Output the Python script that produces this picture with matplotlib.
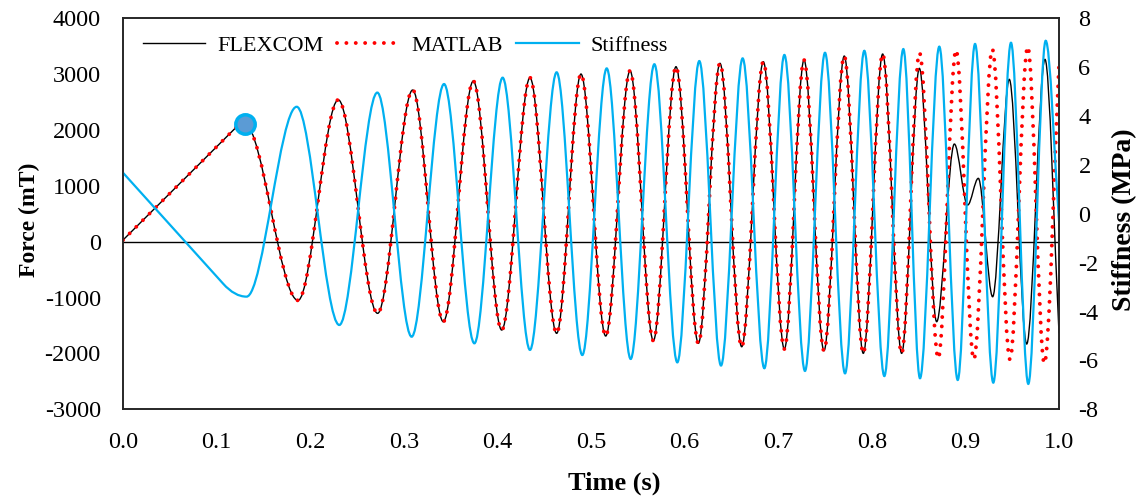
import numpy as np
import matplotlib
matplotlib.use('Agg')
import matplotlib.pyplot as plt
from matplotlib.path import Path
from matplotlib.patches import PathPatch
from matplotlib.lines import Line2D

plt.rcParams['font.family'] = ['Liberation Serif', 'DejaVu Serif']
plt.rcParams['axes.unicode_minus'] = False

# ---------------- data (extrema / key points) ----------------
common_t = [0.0, 0.119, 0.13, 0.187, 0.230, 0.272, 0.3095, 0.3422, 0.3743, 0.4046,
            0.4348, 0.4633, 0.4893, 0.5157, 0.5417, 0.5666, 0.5908, 0.6147, 0.6378,
            0.6610, 0.6841, 0.7066, 0.7276, 0.7489, 0.7706, 0.7909, 0.8116, 0.8319]
common_v = [30, 2017, 2110, -1050, 2540, -1282, 2716, -1432, 2877, -1581,
            2936, -1640, 3002, -1688, 3061, -1772, 3133, -1819, 3194,
            -1880, 3222, -1921, 3253, -1951, 3324, -1998, 3360, -1998]

flexcom_tail_t = [0.8508, 0.8693, 0.8882, 0.9024, 0.9138, 0.9291, 0.9469, 0.9655, 0.985, 1.0]
flexcom_tail_v = [3104, -1432, 1749, 657, 1135, -985, 2907, -1831, 3265, -1640]

matlab_tail_t = [0.851, 0.871, 0.890, 0.909, 0.9288, 0.9476, 0.9666, 0.9843, 1.0]
matlab_tail_v = [3380, -2088, 3432, -2106, 3444, -2106, 3491, -2177, 3170]

stiff_t = [0.0, 0.107, 0.132, 0.1856, 0.2311, 0.2717, 0.3084, 0.343, 0.3754, 0.4056,
           0.4348, 0.4633, 0.4907, 0.5168, 0.5424, 0.5677, 0.5922, 0.6157, 0.6389,
           0.662, 0.6852, 0.7066, 0.7286, 0.75, 0.7714, 0.792, 0.8134, 0.8337,
           0.8515, 0.8721, 0.8918, 0.9103, 0.9298, 0.9487, 0.9672, 0.9858, 1.0]
stiff_v = [1.68, -2.86, -3.39, 4.38, -4.55, 4.96, -5.03, 5.31, -5.30, 5.57,
           -5.57, 5.79, -5.78, 5.95, -5.94, 6.12, -6.08, 6.25, -6.21,
           6.36, -6.32, 6.50, -6.43, 6.59, -6.53, 6.67, -6.64, 6.74,
           -6.73, 6.84, -6.80, 6.95, -6.91, 7.00, -6.96, 7.08, -0.3]

marker_t = [0.13]
marker_v = [2100]

x_ticks = [0.0, 0.1, 0.2, 0.3, 0.4, 0.5, 0.6, 0.7, 0.8, 0.9, 1.0]
force_ticks = [-3000, -2000, -1000, 0, 1000, 2000, 3000, 4000]
stiff_ticks = [-8, -6, -4, -2, 0, 2, 4, 6, 8]

flexcom_t = common_t + flexcom_tail_t
flexcom_v = common_v + flexcom_tail_v
matlab_t = common_t + matlab_tail_t
matlab_v = common_v + matlab_tail_v


def tangents(t, v):
    """Zero slope at extrema; straight runs between non-extremum points."""
    t = np.asarray(t, float)
    v = np.asarray(v, float)
    n = len(v)
    h = np.diff(t)
    d = np.diff(v) / h
    ext = np.zeros(n, bool)
    for k in range(1, n - 1):
        ext[k] = d[k - 1] * d[k] <= 0
    m = np.zeros(n)
    m[0] = d[0]
    m[-1] = d[-1]
    for k in range(1, n - 1):
        if ext[k]:
            m[k] = 0.0
        elif not ext[k - 1]:
            m[k] = d[k - 1]
        elif not ext[k + 1] and k + 1 < n - 1:
            m[k] = d[k]
        else:
            w1 = 2 * h[k] + h[k - 1]
            w2 = h[k] + 2 * h[k - 1]
            m[k] = (w1 + w2) / (w1 / d[k - 1] + w2 / d[k])
    return m


def smooth_path(t, v):
    m = tangents(t, v)
    verts = [(t[0], v[0])]
    codes = [Path.MOVETO]
    for i in range(len(t) - 1):
        h = t[i + 1] - t[i]
        verts += [(t[i] + h / 3, v[i] + m[i] * h / 3),
                  (t[i + 1] - h / 3, v[i + 1] - m[i + 1] * h / 3),
                  (t[i + 1], v[i + 1])]
        codes += [Path.CURVE4] * 3
    return Path(verts, codes)


fig = plt.figure(figsize=(11.43, 5.0), dpi=100)
ax = fig.add_axes([123 / 1143, 1 - 409.3 / 500, 936 / 1143, 391 / 500])
ax2 = ax.twinx()

dots = (0, (0.01, 2.4))
ax.axhline(0, color='black', lw=1.0, zorder=1.5)
ax.add_patch(PathPatch(smooth_path(flexcom_t, flexcom_v), fill=False, ec='black', lw=1.0, zorder=2))
ax.add_patch(PathPatch(smooth_path(matlab_t, matlab_v), fill=False, ec='#FF0000', lw=2.8,
                       linestyle=dots, capstyle='round', zorder=3))
ax.plot(marker_t, marker_v, 'o', ms=14, mfc='#5B9BD5', mec='#00B0F0', mew=2.5, zorder=5)
ax2.add_patch(PathPatch(smooth_path(stiff_t, stiff_v), fill=False, ec='#00B0F0', lw=1.6, zorder=2))

ax.set_xlim(0, 1)
ax.set_ylim(-3000, 4000)
ax2.set_ylim(-8, 8)
ax.set_xticks(x_ticks)
ax.set_xticklabels([f'{x:.1f}' for x in x_ticks])
ax.set_yticks(force_ticks)
ax2.set_yticks(stiff_ticks)

ax.tick_params(axis='x', length=0, pad=16, labelsize=17.5)
ax.tick_params(axis='y', length=0, pad=16, labelsize=17.5)
ax2.tick_params(axis='y', length=0, pad=14, labelsize=17.5)

for a in (ax, ax2):
    for s in a.spines.values():
        s.set_color('#262626')
        s.set_linewidth(1.2)

ax.set_xlabel('Time (s)', fontsize=19, fontweight='bold')
ax.set_ylabel('Force (mT)', fontsize=17, fontweight='bold')
ax2.set_ylabel('Stiffness (MPa)', fontsize=20, fontweight='bold')
ax.xaxis.set_label_coords(0.5246, -0.160)
ax.yaxis.set_label_coords(-0.0887, 0.484)
ax2.yaxis.set_label_coords(1.0566, 0.484)

handles = [Line2D([], [], color='black', lw=1.0),
           Line2D([], [], color='#FF0000', lw=2.8, linestyle=dots, dash_capstyle='round'),
           Line2D([], [], color='#00B0F0', lw=1.6)]
ax2.legend(handles, ['FLEXCOM', 'MATLAB', 'Stiffness'], loc='upper left',
           bbox_to_anchor=(0.0214, 0.957), ncol=3, frameon=False, fontsize=16,
           handlelength=2.8, handletextpad=0.55, columnspacing=0.6, borderpad=0,
           borderaxespad=0)

fig.savefig('out.png', dpi=100)
